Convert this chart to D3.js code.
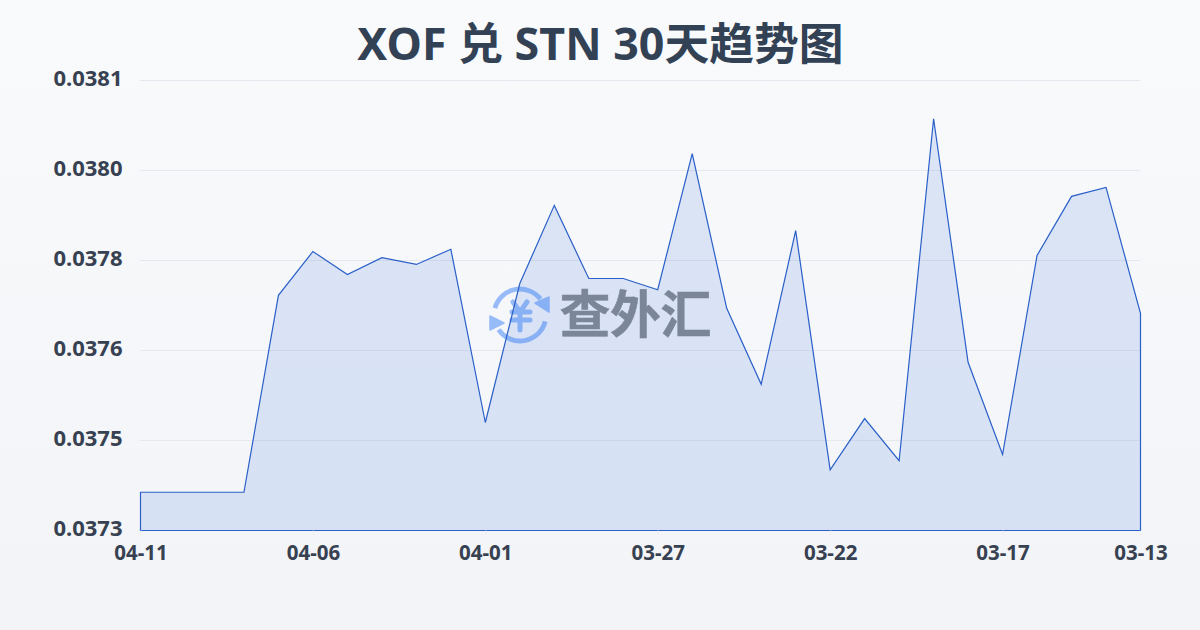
<!DOCTYPE html>
<html><head><meta charset="utf-8">
<style>html,body{margin:0;padding:0;width:1200px;height:630px;overflow:hidden}svg{display:block}</style>
<script src="https://cdn.jsdelivr.net/npm/d3@7"></script></head><body>
<svg id="c" width="1200" height="630"></svg>
<script>
const titleText = "XOF 兑 STN 30天趋势图";
const dates = ["04-11","04-10","04-09","04-08","04-07","04-06","04-05","04-04","04-03","04-02","04-01","03-31","03-30","03-29","03-28","03-27","03-26","03-25","03-24","03-23","03-22","03-21","03-20","03-19","03-18","03-17","03-16","03-15","03-14","03-13"];
const rates = [0.037378,0.037378,0.037378,0.037378,0.037728,0.037806,0.037765,0.037795,0.037783,0.03781,0.037502,0.037749,0.037888,0.037758,0.037758,0.037738,0.03798,0.037705,0.03757,0.037843,0.037418,0.037509,0.037434,0.038042,0.037609,0.037445,0.037799,0.037904,0.03792,0.037696];
const xTickLabels = ["04-11","04-06","04-01","03-27","03-22","03-17","03-13"];
const yTicks = [0.03731,0.03747,0.03763,0.03779,0.03795,0.03811];
const yTickLabels = ["0.0373","0.0375","0.0376","0.0378","0.0380","0.0381"];
const font = "'Noto Sans','Noto Sans CJK SC',sans-serif";

const svg = d3.select("#c");
const defs = svg.append("defs");
const bg = defs.append("linearGradient").attr("id","bg").attr("x1",0).attr("y1",0).attr("x2",0).attr("y2",1);
bg.append("stop").attr("offset",0).attr("stop-color","#f8fafc");
bg.append("stop").attr("offset",1).attr("stop-color","#f2f4f7");
svg.append("rect").attr("width",1200).attr("height",630).attr("fill","url(#bg)");

const x = d3.scalePoint().domain(dates).range([140.5,1140.5]);
const y = d3.scaleLinear().domain([0.03731,0.03811]).range([530,80]);

svg.append("g").selectAll("line").data(yTicks).join("line")
  .attr("x1",140).attr("x2",1140).attr("y1",d=>y(d)+.5).attr("y2",d=>y(d)+.5)
  .attr("stroke","#e5e8ee").attr("stroke-width",1);

const area = d3.area().x(d=>x(d.d)).y0(y(0.03731)).y1(d=>y(d.v));
const pts = dates.map((d,i)=>({d,v:rates[i]}));

// watermark
const wm = svg.append("g");
const logoBlue = "#96bbf8";
const ic = wm.append("g").attr("transform","translate(520,315)").attr("fill","none").attr("stroke",logoBlue).attr("stroke-linecap","round");
const arc = d3.arc();
ic.append("path").attr("stroke-width",4.8).attr("d",arc({innerRadius:26,outerRadius:26,startAngle:-1.3,endAngle:0.91}));
ic.append("path").attr("stroke-width",4.8).attr("d",arc({innerRadius:26,outerRadius:26,startAngle:1.82,endAngle:4.11}));
ic.append("path").attr("fill",logoBlue).attr("stroke",logoBlue).attr("stroke-width",1.5).attr("stroke-linejoin","round").attr("d",d3.line()([[29,-3],[29,-18],[15,-12]])+"Z");
ic.append("path").attr("fill",logoBlue).attr("stroke",logoBlue).attr("stroke-width",1.5).attr("stroke-linejoin","round").attr("d",d3.line()([[-30,1],[-30,15],[-16,8]])+"Z");
ic.append("path").attr("stroke-width",5).attr("d","M-7,-13L0,-3L7,-13M-8,-3H10M-8,5H10M0,-3V15");
wm.append("text").attr("x",559.5).attr("y",333).attr("font-family","'Noto Sans CJK SC'").attr("font-weight",700).attr("font-size",51).attr("fill","#878a8e").attr("stroke","#878a8e").attr("stroke-width",0.5).attr("textLength",152).text("查外汇");

svg.append("path").datum(pts).attr("transform","translate(0,0.5)").attr("d",d=>area(d)+"Z").attr("fill","#3b6fdc").attr("fill-opacity",.15).attr("stroke","#2a5fc9").attr("stroke-width",1.2);

svg.append("g").selectAll("text").data(yTicks).join("text")
  .attr("x",122.5).attr("y",d=>y(d)+6).attr("text-anchor","end")
  .attr("font-family",font).attr("font-weight",700).attr("font-size",22).attr("fill","#374151")
  .text((d,i)=>yTickLabels[i]);

const xAxis = d3.axisBottom(x).tickValues(xTickLabels).tickSize(5).tickPadding(0);
const gx = svg.append("g").attr("transform","translate(0,530.5)").call(xAxis);
gx.select(".domain").remove();
gx.selectAll("line").attr("stroke","#eceef2");
gx.selectAll("text").attr("y",29).attr("dy",0).attr("font-family",font).attr("font-weight",700).attr("font-size",20.5).attr("fill","#374151");

svg.append("text").attr("x",600.5).attr("y",60).attr("text-anchor","middle")
  .attr("font-family",font).attr("font-weight",700).attr("font-size",44.8).attr("fill","#334155").text(titleText);
</script></body></html>
